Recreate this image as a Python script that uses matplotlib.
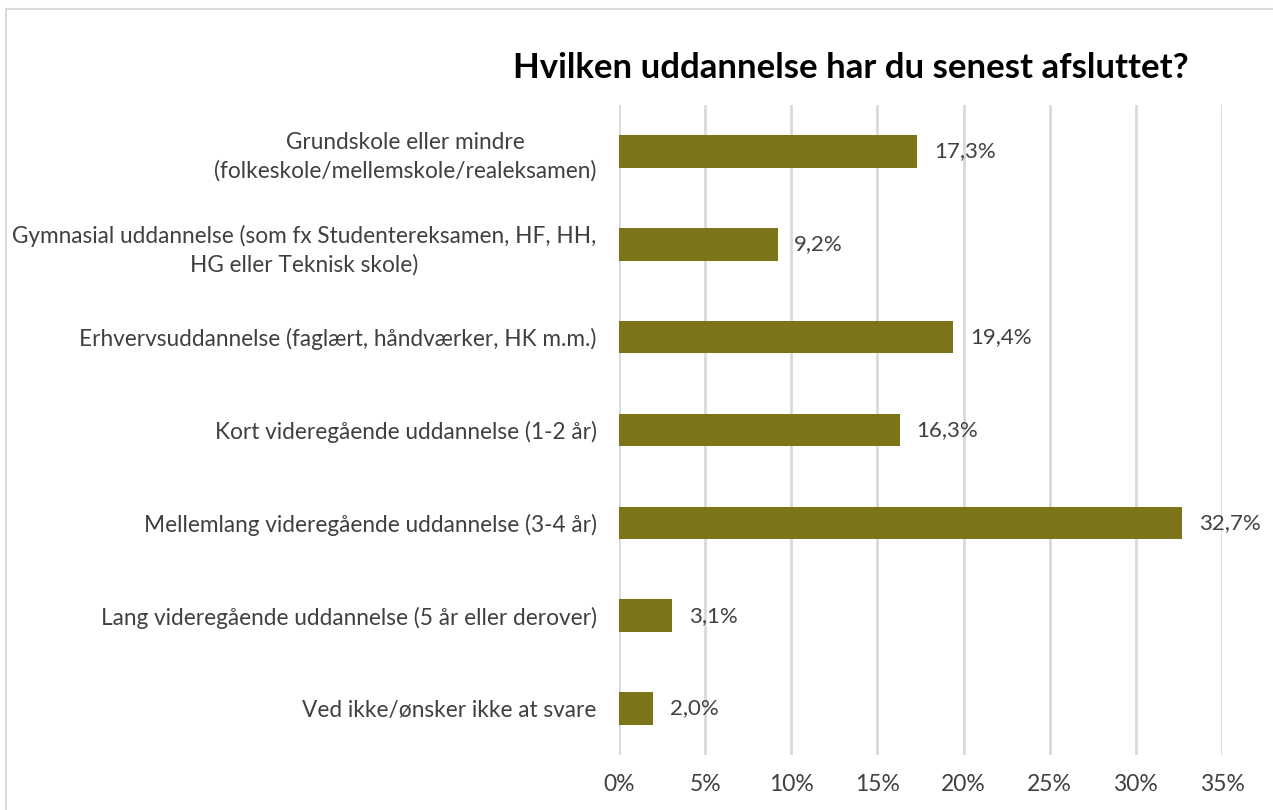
import matplotlib
matplotlib.use("Agg")
import matplotlib.pyplot as plt
from matplotlib.patches import Rectangle

categories = [
    "Grundskole eller mindre\n(folkeskole/mellemskole/realeksamen)",
    "Gymnasial uddannelse (som fx Studentereksamen, HF, HH,\nHG eller Teknisk skole)",
    "Erhvervsuddannelse (faglært, håndværker, HK m.m.)",
    "Kort videregående uddannelse (1-2 år)",
    "Mellemlang videregående uddannelse (3-4 år)",
    "Lang videregående uddannelse (5 år eller derover)",
    "Ved ikke/ønsker ikke at svare",
]
values = [17.3, 9.2, 19.4, 16.3, 32.7, 3.1, 2.0]
xticks = [0, 5, 10, 15, 20, 25, 30, 35]
title = "Hvilken uddannelse har du senest afsluttet?"

plt.rcParams['font.family'] = ['Lato', 'DejaVu Sans']
txt = '#404040'
bar_color = '#7C7419'

fig = plt.figure(figsize=(12.73, 8.10), dpi=100)
ax = fig.add_axes([619/1273, 1-755/810, (1222-619)/1273, (755-105)/810])

y = list(range(len(categories)))
ax.barh(y, values, height=0.35, color=bar_color, zorder=3)
for yi, v in zip(y, values):
    ax.annotate(f"{v:.1f}%".replace('.', ','), (v, yi), xytext=(12, 0),
                textcoords='offset points', va='center', ha='left',
                fontsize=16, color=txt)

ax.set_ylim(len(categories) - 0.5, -0.5)
ax.set_xlim(0, 35)
ax.set_xticks(xticks)
ax.set_xticklabels([f"{t}%" for t in xticks], fontsize=16.5, color=txt)
ax.set_yticks(y)
ax.set_yticklabels(categories, fontsize=16.3, color=txt, ha='right')
for lbl in ax.get_yticklabels():
    lbl.set_multialignment('center')
    lbl.set_linespacing(1.4)
ax.tick_params(axis='both', length=0)
ax.tick_params(axis='y', pad=16)
ax.tick_params(axis='x', pad=14)
ax.grid(axis='x', color='#D9D9D9', linewidth=2, zorder=0)
for s in ax.spines.values():
    s.set_visible(False)

fig.text(851/1273, 1-68/810, title, ha='center', va='center',
         fontsize=25, fontweight='bold', color='black')

fig.patches.append(Rectangle((6/1273, -0.1), 1.2, 1-9/810+0.1, transform=fig.transFigure,
                             fill=False, edgecolor='#D9D9D9', linewidth=1.5))

fig.savefig("out.png", dpi=100)
